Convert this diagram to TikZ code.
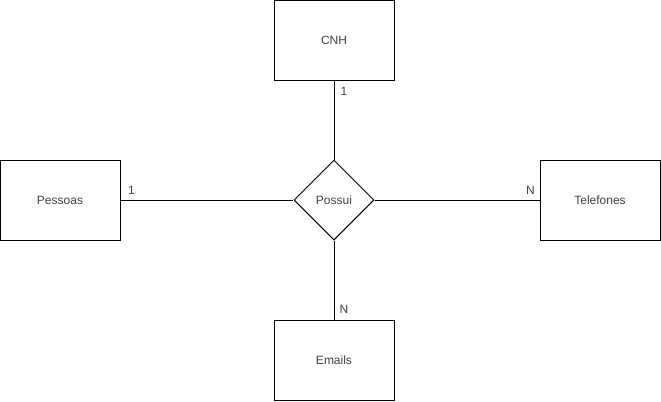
\documentclass[tikz,border=0pt]{standalone}
\usepackage{fontspec}
\setmainfont{Liberation Sans}
\usetikzlibrary{shapes.geometric}

\begin{document}
\begin{tikzpicture}[
  x=0.75pt, y=-0.75pt,
  entity/.style={draw=black, line width=0.75pt, minimum width=90pt, minimum height=60pt,
                 inner sep=0pt, font=\fontsize{9}{11}\selectfont, text=black!75},
  relation/.style={draw=black, line width=0.75pt, diamond, minimum width=60pt,
                   minimum height=60pt, inner sep=0pt, aspect=1,
                   font=\fontsize{9}{11}\selectfont, text=black!75},
  link/.style={draw=black, line width=0.75pt},
  card/.style={inner sep=0pt, font=\fontsize{9}{11}\selectfont, text=black!75}
]
  \useasboundingbox (0,0) rectangle (661,401);
  % entities and the relation
  \node[entity] (cnh) at (334,40) {CNH};
  \node[entity] (pessoas) at (60,200) {Pessoas};
  \node[entity] (telefones) at (600,200) {Telefones};
  \node[entity] (emails) at (334,360) {Emails};
  \node[relation] (possui) at (334,200) {Possui};
  % connectors
  \draw[link] (cnh) -- (possui);
  \draw[link] (pessoas) -- (possui);
  \draw[link] (possui) -- (telefones);
  \draw[link] (possui) -- (emails);
  % cardinalities
  \node[card] (cardcnh) at ([shift={(10,11)}]cnh.south) {1};
  \node[card] (cardpessoas) at ([shift={(11,-10)}]pessoas.east) {1};
  \node[card] (cardtel) at ([shift={(-9,-10)}]telefones.west) {N};
  \node[card] (cardemails) at ([shift={(10,-10)}]emails.north) {N};
\end{tikzpicture}
\end{document}
